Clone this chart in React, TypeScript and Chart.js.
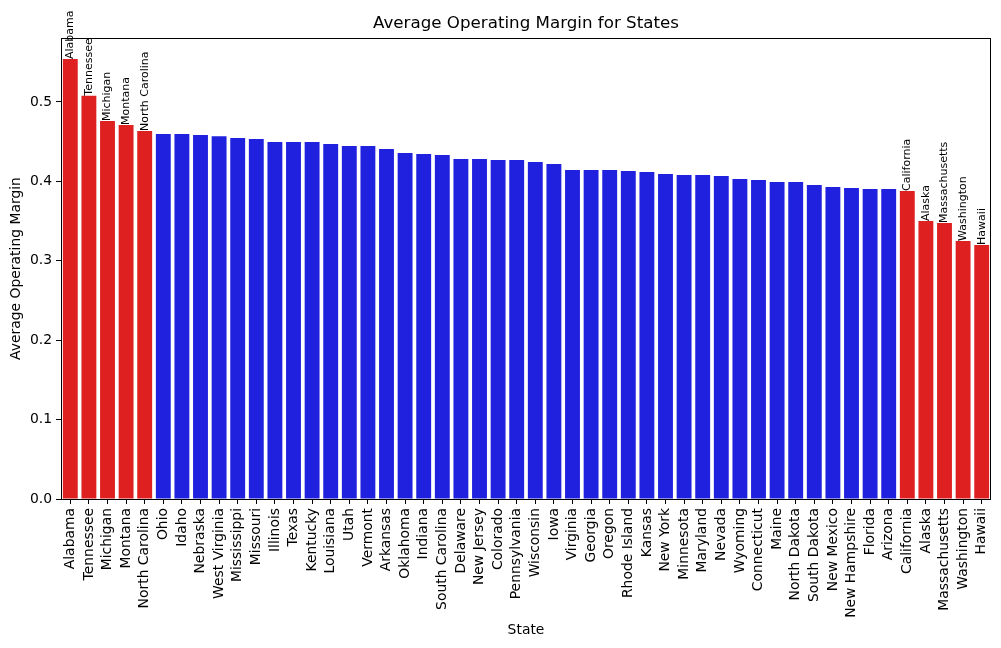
import React, { useEffect, useRef } from "react";
import { Chart, registerables } from "chart.js";

Chart.register(...registerables);

const states = [
  "Alabama", "Tennessee", "Michigan", "Montana", "North Carolina", "Ohio", "Idaho", "Nebraska",
  "West Virginia", "Mississippi", "Missouri", "Illinois", "Texas", "Kentucky", "Louisiana", "Utah",
  "Vermont", "Arkansas", "Oklahoma", "Indiana", "South Carolina", "Delaware", "New Jersey", "Colorado",
  "Pennsylvania", "Wisconsin", "Iowa", "Virginia", "Georgia", "Oregon", "Rhode Island", "Kansas",
  "New York", "Minnesota", "Maryland", "Nevada", "Wyoming", "Connecticut", "Maine", "North Dakota",
  "South Dakota", "New Mexico", "New Hampshire", "Florida", "Arizona", "California", "Alaska",
  "Massachusetts", "Washington", "Hawaii",
];

const margins = [
  0.554, 0.508, 0.476, 0.471, 0.4635, 0.4597, 0.4597, 0.4584,
  0.457, 0.4547, 0.4534, 0.4496, 0.4496, 0.4496, 0.447, 0.4446,
  0.4446, 0.4408, 0.4358, 0.4345, 0.4332, 0.4282, 0.4282, 0.427,
  0.427, 0.4244, 0.4219, 0.4144, 0.4144, 0.4144, 0.413, 0.4118,
  0.4093, 0.408, 0.408, 0.4068, 0.403, 0.4018, 0.3992, 0.3992,
  0.3955, 0.393, 0.3917, 0.3904, 0.3904, 0.3879, 0.3501,
  0.3476, 0.325, 0.32,
];

const highlighted = [
  "Alabama", "Tennessee", "Michigan", "Montana", "North Carolina",
  "California", "Alaska", "Massachusetts", "Washington", "Hawaii",
];

const yTicks = [0, 0.1, 0.2, 0.3, 0.4, 0.5];

const RED = "#df2020";
const BLUE = "#2020df";
const FONT = "'DejaVu Sans', sans-serif";

export default function App() {
  const ref = useRef<HTMLCanvasElement | null>(null);

  useEffect(() => {
    if (!ref.current) return;
    const textPlugin = {
      id: "textPlugin",
      afterDraw(chart: any) {
        const ctx = chart.ctx as CanvasRenderingContext2D;
        const a = chart.chartArea;
        ctx.save();
        // frame
        ctx.strokeStyle = "#000";
        ctx.lineWidth = 1;
        ctx.strokeRect(Math.round(a.left) + 0.5, Math.round(a.top) + 0.5, Math.round(a.right - a.left) - 1, Math.round(a.bottom - a.top));
        // title
        ctx.fillStyle = "#000";
        ctx.font = `16.7px ${FONT}`;
        ctx.textAlign = "center";
        ctx.textBaseline = "alphabetic";
        ctx.fillText("Average Operating Margin for States", (a.left + a.right) / 2, 28);
        // x label
        ctx.font = `13.9px ${FONT}`;
        ctx.textBaseline = "middle";
        ctx.fillText("State", (a.left + a.right) / 2, 630);
        // y label
        ctx.save();
        ctx.translate(16, (a.top + a.bottom) / 2);
        ctx.rotate(-Math.PI / 2);
        ctx.fillText("Average Operating Margin", 0, 0);
        ctx.restore();
        // bar labels
        const meta = chart.getDatasetMeta(0);
        ctx.font = `11px ${FONT}`;
        ctx.textAlign = "left";
        ctx.textBaseline = "middle";
        states.forEach((s, i) => {
          if (!highlighted.includes(s)) return;
          const el = meta.data[i];
          ctx.save();
          ctx.translate(el.x, el.y);
          ctx.rotate(-Math.PI / 2);
          ctx.fillText(s, 0, 0);
          ctx.restore();
        });
        ctx.restore();
      },
    };

    const chart = new Chart(ref.current, {
      type: "bar",
      data: {
        labels: states,
        datasets: [
          {
            data: margins,
            backgroundColor: states.map((s) => (highlighted.includes(s) ? RED : BLUE)),
            barPercentage: 0.8,
            categoryPercentage: 1,
          },
        ],
      },
      options: {
        animation: false,
        responsive: false,
        devicePixelRatio: 1,
        layout: { padding: { left: 0, right: 10, top: 38, bottom: 0 } },
        plugins: { legend: { display: false }, title: { display: false }, tooltip: { enabled: false } },
        scales: {
          x: {
            offset: true,
            border: { display: false },
            grid: { display: true, drawOnChartArea: false, drawTicks: true, tickLength: 5, color: "#000", offset: false },
            ticks: {
              autoSkip: false,
              minRotation: 90,
              maxRotation: 90,
              padding: 4,
              color: "#000",
              font: { family: FONT, size: 13.9 },
            },
            afterFit: (scale: any) => {
              scale.height = 149;
              scale.paddingLeft = 0;
              scale.paddingRight = 0;
            },
          },
          y: {
            min: 0,
            max: 0.5806,
            border: { display: false },
            grid: { display: true, drawOnChartArea: false, drawTicks: true, tickLength: 5, color: "#000" },
            afterBuildTicks: (scale: any) => {
              scale.ticks = yTicks.map((v) => ({ value: v }));
            },
            ticks: {
              padding: 4,
              color: "#000",
              font: { family: FONT, size: 13.9 },
              callback: (v: any) => Number(v).toFixed(1),
            },
            afterFit: (scale: any) => {
              scale.width = 61;
              scale.paddingTop = 0;
              scale.paddingBottom = 0;
            },
          },
        },
      },
      plugins: [textPlugin],
    } as any);
    return () => chart.destroy();
  }, []);

  return (
    <div style={{ position: "absolute", left: 0, top: 0, width: 1001, height: 648, background: "#fff" }}>
      <canvas ref={ref} width={1001} height={648} style={{ width: 1001, height: 648, display: "block" }} />
    </div>
  );
}
